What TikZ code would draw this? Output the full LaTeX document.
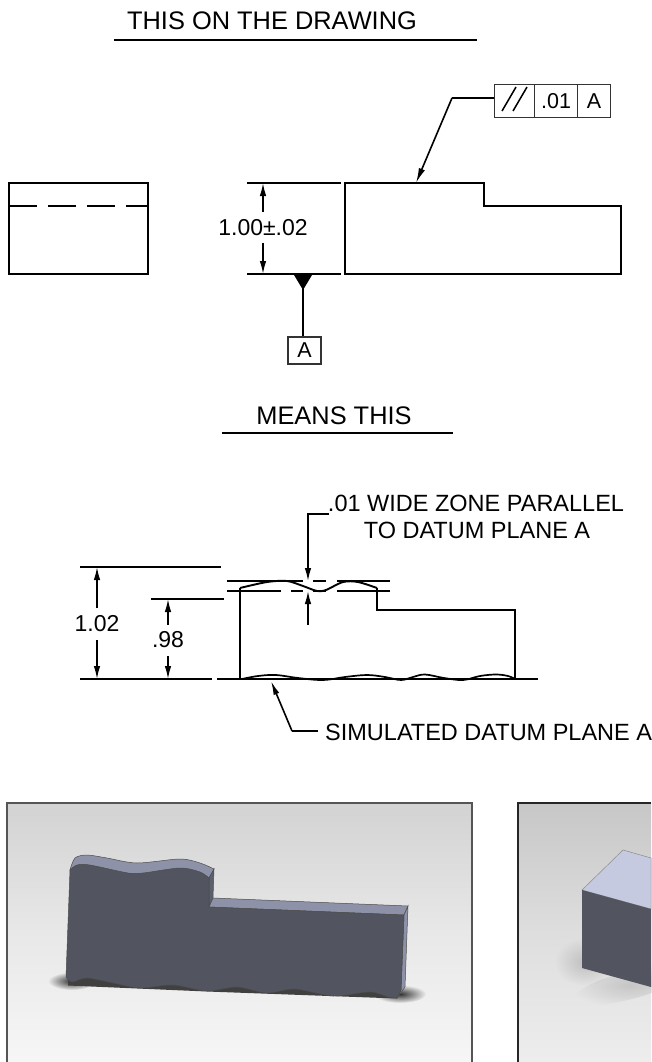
\documentclass[tikz,border=0pt]{standalone}
\usepackage{fontspec}
\setmainfont{Liberation Sans}
\usetikzlibrary{arrows.meta,calc,fadings}
\definecolor{facedark}{HTML}{52555F}
\definecolor{facemid}{HTML}{8D92A8}
\definecolor{facepale}{HTML}{C5CAE0}
\definecolor{stepside}{HTML}{5C5F6C}
\definecolor{borderdark}{HTML}{555555}
\tikzfading[name=softblob,inner color=transparent!0,outer color=transparent!100]
\tikzset{
  thick line/.style={line width=2pt,line join=miter},
  dim arrow/.style={line width=1.5pt,-{Latex[length=13pt,width=6.5pt]}},
  label text/.style={inner sep=0pt,font=\fontsize{23.5}{27}\selectfont,text=black},
  title text/.style={inner sep=0pt,font=\fontsize{25.4}{29}\selectfont,text=black},
  dim text/.style={inner sep=0pt,font=\fontsize{23}{27}\selectfont,text=black},
  fcf cell/.style={draw=black!80,line width=1.3pt,rectangle,anchor=north west,inner sep=0pt,font=\fontsize{21.5}{24}\selectfont,text=black},
  panel border/.style={draw=borderdark,line width=1.4pt},
  edge line/.style={draw=black!70,line width=.5pt},
}
\begin{document}
\begin{tikzpicture}[x=1pt,y=-1pt]
\useasboundingbox (0,0) rectangle (651,1062);
\fill[white] (0,0) rectangle (651,1062);

% ---- THIS ON THE DRAWING
\node[title text] (title1) at (272,20.5) {THIS ON THE DRAWING};
\coordinate (t1a) at (114,40); \coordinate (t1b) at (477,40);
\draw[thick line] (t1a) -- (t1b);

% left view
\draw[thick line] (9,183) rectangle (148,274);
\draw[thick line,dash pattern=on 28pt off 11pt] (9,206) -- (148,206);

% extension lines
\draw[thick line] (247,183) -- (341,183);
\draw[thick line] (247,274) -- (341,274);

% dimension
\node[dim text] (dim100) at (263,228) {1.00±.02};
\coordinate (dimT) at (263,183); \coordinate (dimB) at (263,274);
\draw[dim arrow] (263,212) -- (dimT);
\draw[dim arrow] (263,243) -- (dimB);

% main profile
\draw[thick line] (345,183) -- (484,183) -- (484,206) -- (621,206) -- (621,274) -- (345,274) -- cycle;

% datum feature
\fill (294,275) -- (312,275) -- (303,290) -- cycle;
\node[fcf cell,anchor=center,minimum width=33pt,minimum height=27pt] (boxA) at (304.5,350.5) {A};
\coordinate (datumTip) at (303,286);
\draw[line width=1.7pt] (datumTip) -- (datumTip |- boxA.north);

% feature control frame
\node[fcf cell,minimum width=40pt,minimum height=33pt] (fcf1) at (494,84) {};
\node[fcf cell,minimum width=43pt,minimum height=33pt] (fcf2) at (534,84) {.01};
\node[fcf cell,minimum width=33pt,minimum height=33pt] (fcf3) at (577,84) {A};
\draw[line width=1.5pt] (502,111) -- (516,87);
\draw[line width=1.5pt] (513,111) -- (527,87);
\coordinate (leadCorner) at (452,98);
\coordinate (leadTip) at (416,183);
\draw[line width=1.7pt] (fcf1.west |- leadCorner) -- (leadCorner);
\draw[line width=1.6pt,-{Latex[length=15pt,width=6.5pt]}] (leadCorner) -- (leadTip);

% ---- MEANS THIS
\node[title text] (title2) at (334,416) {MEANS THIS};
\draw[thick line] (222,433) -- (453,433);

\node[label text] (zone1) at (476,503) {.01 WIDE ZONE PARALLEL};
\node[label text] (zone2) at (477,530) {TO DATUM PLANE A};

% zone lines
\draw[line width=1.6pt] (227,581) -- (303,581) (313,581) -- (326,581) (337,581) -- (390,581);
\draw[line width=1.6pt] (227,591) -- (281,591) (291,591) -- (303,591) (313,591) -- (326,591) (337,591) -- (390,591);

% zone arrows
\coordinate (zoneCorner) at (308,514);
\coordinate (zoneEnd) at (329,514);
\draw[line width=1.6pt] (zoneEnd) -- (zoneCorner) -- (308,570);
\draw[dim arrow] (308,560) -- (308,581);
\draw[dim arrow] (308,625) -- (308,591);

% extension lines lower
\draw[thick line] (80,567) -- (221,567);
\draw[thick line] (151,599) -- (224,599);
\draw[thick line] (80,679) -- (212,679);
\draw[thick line] (217,679) -- (538,679);

% dims
\node[dim text] (d102) at (97,624) {1.02};
\node[dim text] (d98) at (168,640) {.98};
\draw[dim arrow] (97,608) -- (97,567);
\draw[dim arrow] (97,640) -- (97,679);
\draw[dim arrow] (168,625) -- (168,599);
\draw[dim arrow] (168,656) -- (168,679);

% lower profile
\draw[line width=1.9pt] (240,679) -- (240,588)
  plot[smooth,tension=.5] coordinates {(240,588) (267,582) (287,581) (303,586) (317,591) (326,590) (343,582) (358,582) (377,588)};
\draw[line width=1.9pt] (377,588) -- (377,610) -- (515,610) -- (515,679);
\draw[line width=1.7pt] plot[smooth,tension=.6] coordinates {(242,679) (258,676) (276,675) (298,678) (323,680) (345,677) (367,675) (385,677) (401,680) (413,677) (425,674.5) (444,678) (463,680) (480,676) (496,674.5) (508,676) (515,679)};

% simulated datum
\node[label text,anchor=west] (sim) at (325,732) {SIMULATED DATUM PLANE A};
\coordinate (simCorner) at (292,731);
\coordinate (simTip) at (271,681);
\draw[line width=1.6pt] (318,731) -- (simCorner);
\draw[line width=1.6pt,-{Latex[length=14pt,width=6pt]}] (simCorner) -- (simTip);

% ---- left 3D panel
\shade[top color=black!17.5,bottom color=black!3.5,middle color=black!9] (7,803) rectangle (472,1062);
% soft shadows at both ends
\fill[black!80,path fading=softblob] (72,981) ellipse [x radius=24,y radius=9];
\fill[black!80,path fading=softblob] (400,994) ellipse [x radius=26,y radius=9];
% shadow band under the wavy edge
\fill[black!75] (68,985.5) -- (207,991.5) -- (397,998.5) -- (397,985) -- (68,972) -- cycle;
% top faces
\path[fill=facemid,edge line] plot[smooth,tension=.5] coordinates {(70,870) (75,858) (87,855) (107,858) (137,863) (180,859) (200,863) (214,869)} -- (209,878) -- (70,870) -- cycle;
\path[fill=stepside,edge line] (214,869) -- (213,898) -- (209,907) -- (209,878) -- cycle;
\path[fill=facemid,edge line] (209,907) -- (213,898) -- (408,906) -- (404,915) -- cycle;
\path[fill=facemid,edge line] (404,915) -- (408,906) -- (405,987) -- (397,998) -- (401,990) -- cycle;
% front face
\path[fill=facedark,edge line] plot[smooth,tension=.5] coordinates {(70,870) (77,865) (90,865) (128,873) (143,873) (180,868) (200,872) (209,878)}
  -- (209,907) -- (404,915) -- (401,990) -- (397,998)
  -- plot[smooth,tension=.5] coordinates {(397,998) (388,997) (370,992) (333,996) (295,989) (267,993) (237,987) (207,991) (173,985) (140,988) (113,983) (87,978) (72,982) (66,977)} -- cycle;
\draw[panel border] (7,1062) -- (7,803) -- (472,803) -- (472,1062);

% ---- right 3D panel
\shade[top color=black!22,bottom color=black!7,middle color=black!13] (518,803) rectangle (651,1062);
\fill[black!50,opacity=.35,path fading=softblob] (585,962) ellipse [x radius=30,y radius=24];
\fill[black!50,opacity=.3,path fading=softblob,rotate around={15:(630,985)}] (630,985) ellipse [x radius=60,y radius=14];
\path[fill=facepale,draw=black!45,line width=.5pt] (582,890) -- (623,850) -- (651,858) -- (651,909) -- cycle;
\path[fill=facedark] (582,890) -- (651,909) -- (651,987) -- (582,968) -- cycle;
\draw[draw=black!85,line width=1.4pt] (518,1062) -- (518,803) -- (651,803);
\end{tikzpicture}
\end{document}
